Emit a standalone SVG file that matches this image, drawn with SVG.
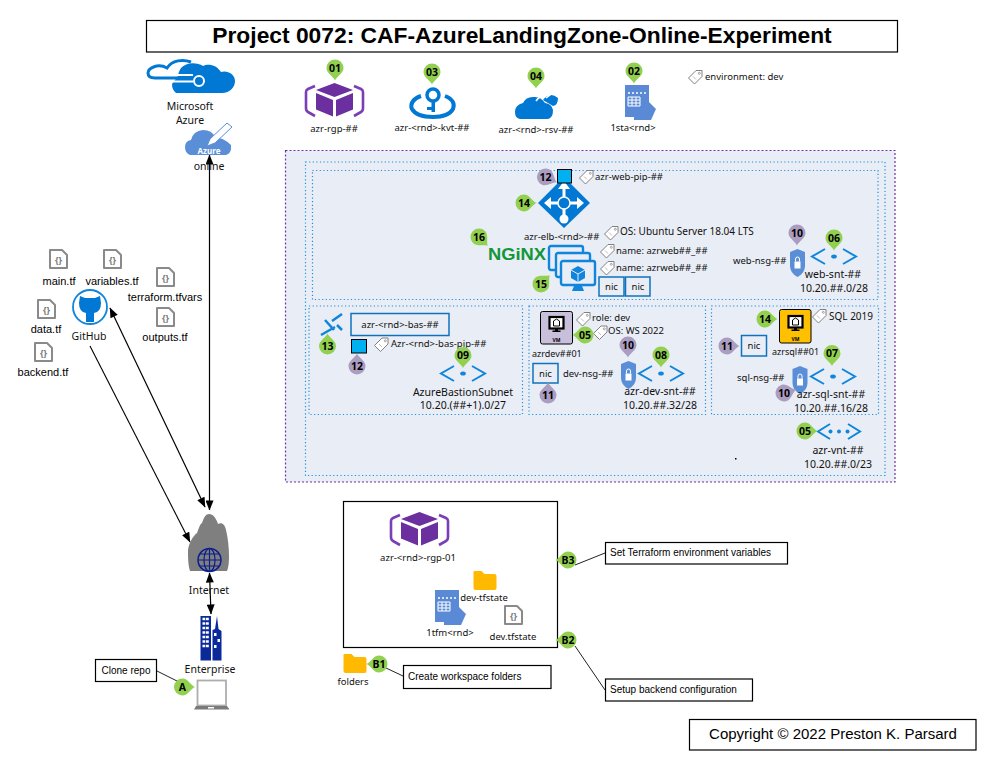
<svg xmlns="http://www.w3.org/2000/svg" xmlns:xlink="http://www.w3.org/1999/xlink" width="1001" height="773" viewBox="0 0 1001 773">
<style>
text{font-family:"Noto Sans","Open Sans","Liberation Sans",sans-serif;font-size:9.5px;fill:#111}
.c{text-anchor:middle}
.big{font-size:10.5px}
.a{font-family:"Liberation Sans",Arial,sans-serif;font-size:10px;fill:#000}
.ft{font-family:"Liberation Sans",Arial,sans-serif;font-size:11px;fill:#000;text-anchor:middle}
.p{font-family:"Noto Sans","Liberation Sans",sans-serif;font-weight:700;font-size:10.5px;text-anchor:middle;fill:#000}
.g{fill:#92D050}
.v{fill:#AB9DC1}
.dot{fill:none;stroke:#1E90E0;stroke-width:1.2;stroke-dasharray:1.2 2.4}
.box{fill:#fff;stroke:#000;stroke-width:1.2}
.ln{stroke:#000;stroke-width:1.1;fill:none}
.blue{fill:#0078D4}
.nicr{fill:#E9EDF5;stroke:#1072BD;stroke-width:1.5}
.arrow{stroke:#000;stroke-width:1.2;fill:none;marker-start:url(#ah);marker-end:url(#ah)}
.lead{stroke:#222;stroke-width:1;fill:none}
.sq{fill:#00B0F0;stroke:#000;stroke-width:1}
.tile{stroke:#000;stroke-width:1}
</style>
<defs>
<marker id="ah" viewBox="0 0 10 8" refX="9.500" refY="4" markerUnits="userSpaceOnUse" markerWidth="11" markerHeight="8" orient="auto-start-reverse"><path d="M0 0L10 4L0 8Z" fill="#000"/></marker>
<path id="pin" d="M0 12.500C-1.500 8.500-8.500 5.500-8.500 0A8.500 8.500 0 1 1 8.500 0C8.500 5.500 1.500 8.500 0 12.500Z"/>
<g id="rgp">
<path d="M10 3L3 6Q1 7 1 9V25Q1 28 3 29L10 33M49 3L56 6Q58 7 58 9V25Q58 28 56 29L49 33" fill="none" stroke="#7B3FB5" stroke-width="2.600"/>
<path d="M29.500 0L48 7L29.500 14L11 7ZM11 10L28 17V33.500L11 26.500ZM48 10L31 17V33.500L48 26.500Z" fill="#6B2FA0"/>
</g>
<g id="snt">
<path d="M15 1L2 8.500L15 16M33 1L46 8.500L33 16" fill="none" stroke="#0F85DC" stroke-width="2"/>
<ellipse cx="24" cy="8.500" rx="2.800" ry="2" fill="#0F85DC"/>
</g>
<g id="shield">
<path d="M7.500 0L15 3V17Q15 24 7.500 28Q0 24 0 17V3Z" fill="#5A8FD8"/>
<rect x="4.500" y="12.500" width="6" height="7" fill="#fff"/>
<path d="M5.500 12.500V10A2 2 0 0 1 9.500 10V12.500" fill="none" stroke="#fff" stroke-width="1"/>
</g>
<g id="tag">
<path d="M8 .5L14 .5V6.500L6.500 14L.5 8Z" fill="#fff" stroke="#808080" stroke-width="1"/>
<circle cx="11.300" cy="3.300" r="1" fill="none" stroke="#808080" stroke-width=".7"/>
<path d="M5 6.500L8 9.500" stroke="#bbb" stroke-width="1"/>
</g>
<g id="doc">
<path d="M1 1H13L18 6V19H1Z" fill="#fff" stroke="#8A8A8A" stroke-width="2" stroke-linejoin="round"/>
<text x="9.500" y="13.500" class="c" style="font-size:9px;font-weight:700;fill:#7A7A7A">{}</text>
</g>
<path id="folder" d="M1 0H8L11 3H21Q23 3 23 5V17Q23 19 21 19H2Q0 19 0 17V1Q0 0 1 0Z" fill="#FFB900"/>
<g id="store">
<path d="M0 0H24V17L31 24L26 35H9V32H0Z" fill="#5A8AD6"/>
<path d="M3 8H5M7 8H9M11 8H13M15 8H17M19 8H21" stroke="#fff" stroke-width="1.600" fill="none"/>
<path d="M3 12h12v9H3zM7 12v9M11 12v9M3 15h12M3 18h12" stroke="#fff" stroke-width="1" fill="none"/>
</g>
<g id="mon">
<rect x="1" y="1" width="34" height="24" rx="2" fill="#E9EDF5" stroke="#0F85DC" stroke-width="2.400"/>
<path d="M14 26H22L24 31H12Z" fill="#0F85DC"/>
</g>
<g id="tinymon">
<rect x="0" y="0" width="14" height="11.500" fill="#fff" stroke="#000" stroke-width="2.200"/>
<path d="M5.500 11.500H8.500V13.500H11V15H3V13.500H5.500Z" fill="#000"/>
<path d="M7 2L10 4V9H4V4Z" fill="none" stroke="#000"/>
</g>
</defs>
<rect width="1001" height="773" fill="#fff"/>

<g id="title"><rect x="146.500" y="20.500" width="751" height="31.500" class="box"/><text x="522" y="43" class="c" style="font-family:'Liberation Sans',Arial,sans-serif;font-weight:700;font-size:22.800px;fill:#000">Project 0072: CAF-AzureLandingZone-Online-Experiment</text></g>

<g id="containers">
<rect x="285.500" y="150.500" width="609.500" height="331.500" fill="#E9EDF5" stroke="#7030A0" stroke-width="1.200" stroke-dasharray="2 2"/>
<rect x="305.500" y="162" width="579.500" height="313.500" class="dot"/>
<rect x="312.500" y="170.500" width="565.500" height="129" class="dot"/>
<rect x="309" y="306" width="213.500" height="108.500" class="dot"/>
<rect x="529" y="306" width="176.500" height="108.500" class="dot"/>
<rect x="711.500" y="306" width="167" height="108.500" class="dot"/>
<rect x="735" y="458" width="1.500" height="1.500" fill="#000"/>
</g>

<g id="connectors">
<path class="arrow" d="M209.500 155V510"/>
<path class="arrow" d="M110 308L205 507"/>
<path class="ln" d="M90 346L190 542" marker-end="url(#ah)"/>
<path class="arrow" d="M209.500 573L211 614"/>
<path class="lead" d="M157 671L179 682M386 668L403 676M575 565L605 553M575 646L605 690"/>
</g>

<g id="azure">
<path d="M176 93H222C230 93 235 87 235 81C235 74 227 70 221 72C217 65 208 63 203 66C197 62 186 62 181 68C179 71 178 74 178 76L172 84Q172 90 176 93Z" class="blue"/>
<path d="M191 62C183 59 172 60 167 68C158 63 148 68 148 73C148 76 150 78 155 78H193" fill="none" stroke="#0078D4" stroke-width="3"/>
<path d="M166 81.500H193M172 75H193" stroke="#fff" stroke-width="2"/>
<circle cx="199" cy="81" r="5" fill="#0078D4" stroke="#fff" stroke-width="2"/>
<text x="190" y="110" class="c big">Microsoft</text><text x="190" y="124" class="c big">Azure</text>
</g>
<g id="online">
<path d="M190 155Q185 153 185 147Q185 141 191 140Q193 131 203 130Q212 130 215 137Q224 138 231 145Q232 153 226 155Z" fill="#5A8FD8"/>
<path d="M207 146L210 139L227 123L232 127L215 143Z" fill="#fff" stroke="#5A8FD8" stroke-width="1"/>
<text x="209" y="154" class="c" style="font-size:8px;font-weight:700;fill:#fff">Azure</text>
<text x="209" y="170" class="c big">online</text>
</g>

<g id="n01"><use href="#rgp" x="305" y="83"/><use href="#pin" x="335" y="68" class="g"/><text x="335" y="71.500" class="p">01</text><text x="334" y="132" class="c">azr-rgp-##</text></g>
<g id="n03">
<path d="M421 96C412 99 410 105 412 109C416 116 426 117 433 117C440 117 449 116 453 109C455 104 453 99 445 96" fill="none" stroke="#0078D4" stroke-width="4"/>
<circle cx="433" cy="95" r="6" fill="none" stroke="#0078D4" stroke-width="3.500"/>
<path d="M431.500 100H435V112H431.500V110H427V107H431.500Z" class="blue"/>
<use href="#pin" x="432" y="72" class="g"/><text x="432" y="75.500" class="p">03</text><text x="432" y="131" class="c">azr-&lt;rnd&gt;-kvt-##</text></g>
<g id="n04">
<path d="M520 119Q515 118 515 112Q515 105 523 103Q526 96 535 97Q541 97 545 103Q552 104 553 110Q553 118 548 119Z" class="blue"/>
<path d="M543 100Q550 91 558 98Q558 105 553 106Z" class="blue"/>
<path d="M536 101Q541 94 549 95M546 92L550 95L546 98" fill="none" stroke="#fff" stroke-width="1.500"/>
<use href="#pin" x="536" y="76" class="g"/><text x="536" y="79.500" class="p">04</text><text x="536" y="133" class="c">azr-&lt;rnd&gt;-rsv-##</text></g>
<g id="n02"><use href="#store" x="625" y="85"/><use href="#pin" x="634" y="71" class="g"/><text x="634" y="74.500" class="p">02</text><text x="633" y="131" class="c">1sta&lt;rnd&gt;</text></g>
<g id="env"><use href="#tag" x="688" y="70"/><text x="705" y="80">environment: dev</text></g>

<g id="web-elb">
<path d="M564 177L590 203L564 228L538 203Z" class="blue"/>
<path d="M564 186V220M548 203H580" stroke="#fff" stroke-width="3"/>
<path d="M558 189L564 181L570 189ZM551 197L544 203L551 209ZM577 197L584 203L577 209Z" fill="#fff"/>
<circle cx="564" cy="203" r="6" class="blue" stroke="#fff" stroke-width="1.500"/>
<circle cx="564" cy="219" r="4.500" fill="#fff"/>
<use href="#pin" transform="translate(524 203) rotate(-90)" class="g"/><text x="524" y="206.500" class="p">14</text>
<text x="524" y="240">azr-elb-&lt;rnd&gt;-##</text>
<use href="#tag" x="604" y="226"/><text x="620" y="235" style="font-size:10px">OS: Ubuntu Server 18.04 LTS</text>
</g>
<g id="web-pip"><rect x="557.500" y="169.500" width="14" height="13.500" class="sq"/><use href="#pin" transform="translate(545.500 177) rotate(-65)" class="v"/><text x="545.500" y="180.500" class="p">12</text><use href="#tag" x="579" y="170"/><text x="595" y="180">azr-web-pip-##</text></g>
<g id="nginx"><use href="#pin" transform="translate(479 237) rotate(-45)" class="g"/><text x="479" y="240.500" class="p">16</text><text x="488" y="259.500" textLength="58" lengthAdjust="spacingAndGlyphs" style="font-family:'Liberation Sans',sans-serif;font-weight:700;font-size:16px;fill:#119639">NGiNX</text></g>
<g id="web-vm">
<use href="#mon" x="548" y="245"/><use href="#mon" x="555" y="252"/><use href="#mon" x="560" y="260"/>
<path d="M578 266L585 270V278L578 282L571 278V270Z" fill="#0F85DC"/><path d="M571 270L578 274L585 270M578 274V282" stroke="#E9EDF5" fill="none"/>
<use href="#pin" transform="translate(541 284) rotate(-135)" class="g"/><text x="541" y="287.500" class="p">15</text>
<use href="#tag" x="600" y="244"/><text x="616" y="254">name: azrweb##_##</text>
<use href="#tag" x="600" y="261"/><text x="616" y="271">name: azrweb##_##</text>
<rect x="599" y="277" width="25" height="19" class="nicr"/><text x="611.500" y="290" class="c">nic</text>
<rect x="625.500" y="277" width="24.500" height="19" class="nicr"/><text x="638" y="290" class="c">nic</text>
</g>
<g id="web-snt">
<text x="733" y="264">web-nsg-##</text><use href="#shield" x="790" y="249"/><use href="#pin" x="797" y="233" class="v"/><text x="797" y="236.500" class="p">10</text>
<use href="#snt" x="810" y="248"/><use href="#pin" x="834" y="238" class="g"/><text x="834" y="241.500" class="p">06</text>
<text x="833" y="278" class="c big">web-snt-##</text><text x="834" y="292" class="c big">10.20.##.0/28</text>
</g>

<g id="bastion">
<path d="M342 314L332 321M321 335L335 327M325 320L334 330" fill="none" stroke="#0F85DC" stroke-width="2.500"/>
<path d="M337 325L342 330" stroke="#0F85DC" stroke-width="2.500"/>
<use href="#pin" transform="translate(327.500 346) rotate(180)" class="g"/><text x="327.500" y="349.500" class="p">13</text>
<rect x="351" y="313.500" width="98" height="22" class="nicr"/><text x="400" y="328" class="c">azr-&lt;rnd&gt;-bas-##</text>
<rect x="351.500" y="339.500" width="15" height="13.500" class="sq"/><use href="#pin" transform="translate(357 366) rotate(180)" class="v"/><text x="357" y="369.500" class="p">12</text>
<use href="#tag" x="374" y="337.500"/><text x="391" y="346.500">Azr-&lt;rnd&gt;-bas-pip-##</text>
<use href="#snt" x="439" y="365"/><use href="#pin" x="463" y="355.500" class="g"/><text x="463" y="359" class="p">09</text>
<text x="463" y="396" class="c big">AzureBastionSubnet</text><text x="463" y="409" class="c big">10.20.(##+1).0/27</text>
</g>

<g id="dev">
<rect x="540.500" y="311.500" width="32" height="32.500" rx="2" fill="#C8BFDA" class="tile"/><use href="#tinymon" x="549.500" y="317"/><text x="556.500" y="342" class="c" style="font-size:5px;font-weight:700;fill:#000">VM</text>
<use href="#tag" x="576" y="312"/><text x="592" y="321">role: dev</text>
<use href="#tag" x="593" y="325.500"/><text x="608" y="334">OS: WS 2022</text>
<use href="#pin" transform="translate(585 335) rotate(90)" class="g"/><text x="585" y="338.500" class="p">05</text>
<text x="532" y="357" style="font-size:9px">azrdev##01</text>
<rect x="533" y="363.500" width="25" height="19.500" class="nicr"/><text x="545.500" y="377" class="c">nic</text>
<text x="563" y="377">dev-nsg-##</text>
<use href="#pin" transform="translate(548 395) rotate(180)" class="v"/><text x="548" y="398.500" class="p">11</text>
<use href="#shield" x="621" y="361"/><use href="#pin" x="628" y="345" class="v"/><text x="628" y="348.500" class="p">10</text>
<use href="#snt" x="637" y="365"/><use href="#pin" x="661" y="355" class="g"/><text x="661" y="358.500" class="p">08</text>
<text x="660" y="395" class="c big">azr-dev-snt-##</text><text x="660" y="409" class="c big">10.20.##.32/28</text>
</g>

<g id="sql">
<rect x="779.500" y="309.500" width="31.500" height="33.500" rx="2" fill="#FFC000" class="tile"/><use href="#tinymon" x="788.500" y="316"/><text x="795.500" y="341" class="c" style="font-size:5px;font-weight:700;fill:#000">VM</text>
<use href="#pin" transform="translate(765 319) rotate(-90)" class="g"/><text x="765" y="322.500" class="p">14</text>
<use href="#tag" x="812" y="309"/><text x="829" y="320" style="font-size:10px">SQL 2019</text>
<rect x="741.500" y="335.500" width="25" height="20.500" class="nicr"/><text x="754" y="349" class="c">nic</text>
<use href="#pin" transform="translate(727 346) rotate(-90)" class="v"/><text x="727" y="349.500" class="p">11</text>
<text x="772" y="355" style="font-size:9px">azrsql##01</text>
<use href="#pin" x="832" y="353.500" class="g"/><text x="832" y="357" class="p">07</text>
<text x="737" y="381">sql-nsg-##</text>
<use href="#shield" x="792.500" y="366"/>
<use href="#pin" transform="translate(784 393) rotate(-105)" class="v"/><text x="784" y="396.500" class="p">10</text>
<use href="#snt" x="809" y="368"/>
<text x="831" y="398" class="c big">azr-sql-snt-##</text><text x="831" y="412" class="c big">10.20.##.16/28</text>
</g>

<g id="vnet">
<path d="M830 424L818 431.500L830 439M848 424L860 431.500L848 439" fill="none" stroke="#0F85DC" stroke-width="2"/>
<circle cx="830.500" cy="431.500" r="2" fill="#0F85DC"/><circle cx="839" cy="431.500" r="2" fill="#0F85DC"/><circle cx="847.500" cy="431.500" r="2" fill="#0F85DC"/>
<use href="#pin" transform="translate(805 431) rotate(-90)" class="g"/><text x="805" y="434.500" class="p">05</text>
<text x="838" y="454" class="c big">azr-vnt-##</text><text x="838" y="468" class="c big">10.20.##.0/23</text>
</g>

<g id="f-main"><use href="#doc" x="49" y="249"/><text x="59" y="285" class="ft">main.tf</text></g>
<g id="f-vars"><use href="#doc" x="103" y="249"/><text x="112" y="285" class="ft">variables.tf</text></g>
<g id="f-tfvars"><use href="#doc" x="156" y="267"/><text x="165" y="301" class="ft">terraform.tfvars</text></g>
<g id="f-outputs"><use href="#doc" x="156" y="307"/><text x="165" y="341" class="ft">outputs.tf</text></g>
<g id="f-data"><use href="#doc" x="37" y="299"/><text x="46" y="333" class="ft">data.tf</text></g>
<g id="f-backend"><use href="#doc" x="34" y="342"/><text x="43" y="376" class="ft">backend.tf</text></g>
<g id="github">
<circle cx="90" cy="307" r="17" fill="#fff" stroke="#0F85DC" stroke-width="1.800"/>
<path d="M80 296L85 298H95L100 296L101 303Q101 312 94 313V322H86V313Q79 312 79 303Z" class="blue"/>
<text x="89" y="340" class="c big">GitHub</text>
</g>

<g id="internet">
<path d="M209 514C213 514 216 518 218 524C222 522 225 525 226 530C228 538 229 548 229 557C229 564 228 569 227 571H190C188 565 188 556 188 550C189 543 193 536 197 533C199 528 200 524 202 523C204 517 206 514 209 514Z" fill="#7F7F7F"/>
<circle cx="209.500" cy="560" r="11.500" fill="none" stroke="#0A1E8C" stroke-width="1.500"/>
<ellipse cx="209.500" cy="560" rx="5.500" ry="11.500" fill="none" stroke="#0A1E8C" stroke-width="1.200"/>
<path d="M198 560H221M200 554H219M200 566H219M209.500 548.500V571.500" stroke="#0A1E8C" stroke-width="1.200"/>
<text x="209" y="594" class="c big">Internet</text>
</g>
<g id="enterprise">
<rect x="200.500" y="616" width="10.500" height="44.500" fill="#0A2A9A"/>
<path d="M202.500 619h6.500M202.500 623.500h6.500M202.500 628h6.500M202.500 632.500h6.500M202.500 637h6.500M202.500 641.500h6.500M202.500 646h6.500" stroke="#fff" stroke-width="2.500" stroke-dasharray="2.800 .7"/>
<path d="M212.500 660.500V630L215 629L217 616L218.500 629L221.500 631V660.500Z" fill="#0A2A9A"/>
<rect x="214" y="633" width="2.500" height="3" fill="#fff"/><rect x="217.500" y="639" width="2.500" height="3" fill="#fff"/><rect x="214" y="645" width="2.500" height="3" fill="#fff"/>
<text x="210" y="673" class="c big">Enterprise</text>
</g>
<g id="laptop">
<rect x="197.500" y="680.500" width="28.500" height="25" fill="#fff" stroke="#ADADAD" stroke-width="1.800"/>
<path d="M196 706H227L229.500 709.500H194Z" fill="#7A7A7A"/><rect x="208" y="707" width="6" height="1.500" fill="#fff"/>
<use href="#pin" transform="translate(182.500 687) rotate(-90)" class="g"/><text x="182.500" y="690.500" class="p">A</text>
</g>
<g id="clone"><rect x="95.500" y="659.500" width="61" height="22" class="box"/><text x="126" y="674" class="c a">Clone repo</text></g>

<g id="backend-box">
<rect x="343.500" y="501.500" width="214" height="146" class="box"/>
<use href="#rgp" x="390" y="512"/><text x="418" y="561" class="c">azr-&lt;rnd&gt;-rgp-01</text>
<use href="#folder" x="473.500" y="571"/><text x="484" y="601" class="c">dev-tfstate</text>
<use href="#store" x="435" y="590"/><text x="450" y="636" class="c">1tfm&lt;rnd&gt;</text>
<use href="#doc" x="504" y="605"/><text x="513" y="640" class="c">dev.tfstate</text>
</g>
<g id="folders"><use href="#folder" x="343.500" y="654"/><text x="353" y="685" class="c">folders</text></g>
<g id="b1"><use href="#pin" transform="translate(379 664) rotate(90)" class="g"/><text x="379" y="667.500" class="p">B1</text><rect x="403.500" y="665.500" width="147.500" height="23" class="box"/><text x="408" y="680" class="a">Create workspace folders</text></g>
<g id="b3"><use href="#pin" transform="translate(568 560) rotate(90)" class="g"/><text x="568" y="563.500" class="p">B3</text><rect x="605.500" y="542.500" width="182" height="21.500" class="box"/><text x="610" y="556" class="a">Set Terraform environment variables</text></g>
<g id="b2"><use href="#pin" transform="translate(568 640) rotate(90)" class="g"/><text x="568" y="643.500" class="p">B2</text><rect x="605.500" y="679" width="147" height="22" class="box"/><text x="610" y="693" class="a">Setup backend configuration</text></g>
<g id="copyright"><rect x="689.500" y="719.500" width="286.500" height="30.500" class="box"/><text x="833" y="739" class="c" style="font-family:'Liberation Sans',Arial,sans-serif;font-size:15px;fill:#000">Copyright © 2022 Preston K. Parsard</text></g>
</svg>
